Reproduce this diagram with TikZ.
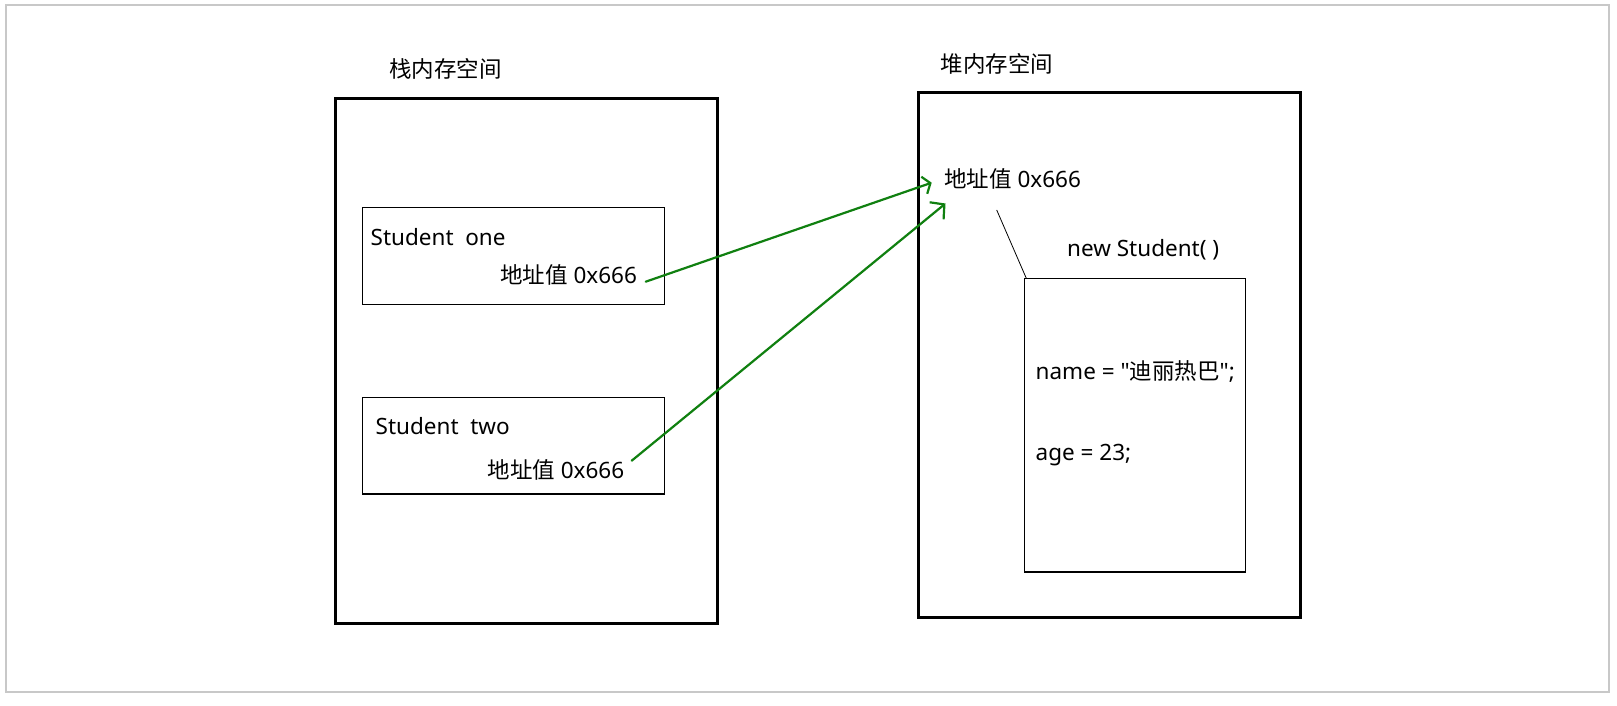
\documentclass[tikz,border=0pt]{standalone}
\usepackage{fontspec}
\setmainfont{Noto Sans}[Ligatures=TeXOff]
\newfontfamily\cjk{Noto Sans CJK SC}[Ligatures=TeXOff]
\usetikzlibrary{arrows.meta}
\definecolor{arrowgreen}{RGB}{16,128,16}
\definecolor{framegray}{RGB}{200,200,200}
\tikzset{
  membox/.style={draw=black, line width=3pt, inner sep=0pt},
  objbox/.style={draw=black, line width=1.3pt, inner sep=0pt},
  lbl/.style={inner sep=0pt, anchor=base west, font=\fontsize{22.5}{26}\selectfont},
  ptr/.style={draw=arrowgreen, line width=2.2pt, line cap=round},
  thin/.style={draw=black, line width=0.8pt}
}
\begin{document}
\begin{tikzpicture}[x=1pt,y=-1pt]
\useasboundingbox (0,0) rectangle (1617,706);
\fill[white] (0,0) rectangle (1617,706);
\draw[framegray, line width=1.5pt] (6,5) rectangle (1609,692);

% stack
\node[membox, minimum width=382pt, minimum height=524.3pt] (stack) at (526.3,360.85) {};
\node[lbl] (stacktitle) at (389,77.5) {\cjk 栈内存空间};
\node[objbox, minimum width=302pt, minimum height=97pt] (one) at (513.3,255.8) {};
\node[objbox, minimum width=302pt, minimum height=96.7pt] (two) at (513.3,445.65) {};
\node[lbl] (onename) at (370.5,245) {Student\ \ one};
\node[lbl] (oneaddr) at (500,283.3) {{\cjk 地址值} 0x666};
\node[lbl] (twoname) at (375.5,434.3) {Student\ \ two};
\node[lbl] (twoaddr) at (487.3,478) {{\cjk 地址值} 0x666};

% heap
\node[membox, minimum width=381.7pt, minimum height=524.3pt] (heap) at (1109.15,354.85) {};
\node[lbl] (heaptitle) at (940.5,72.5) {\cjk 堆内存空间};
\node[lbl] (heapaddr) at (944,187.3) {{\cjk 地址值} 0x666};
\node[lbl] (newlbl) at (1067,256.7) {new Student( )};
\node[objbox, minimum width=221pt, minimum height=293.7pt] (obj) at (1134.8,425.15) {};
\node[lbl] (namefield) at (1035.5,379.3) {name = "{\cjk 迪丽热巴}";};
\node[lbl] (agefield) at (1035.5,460) {age = 23;};

% connectors
\coordinate (s1) at (645.7,281.7);
\coordinate (e1) at (931.7,182.7);
\coordinate (s2) at (631.7,460.7);
\coordinate (e2) at (945.5,203.5);
\coordinate (l1) at (996.7,210);
\coordinate (l2) at (1026.3,278.3);
\draw[ptr, -{Straight Barb[length=6.5pt,width=18pt,line width=2.2pt]}] (s1) -- (e1);
\draw[ptr, -{Straight Barb[length=10pt,width=22pt,line width=2.2pt]}] (s2) -- (e2);
\draw[thin] (l1) -- (l2);
\end{tikzpicture}
\end{document}
